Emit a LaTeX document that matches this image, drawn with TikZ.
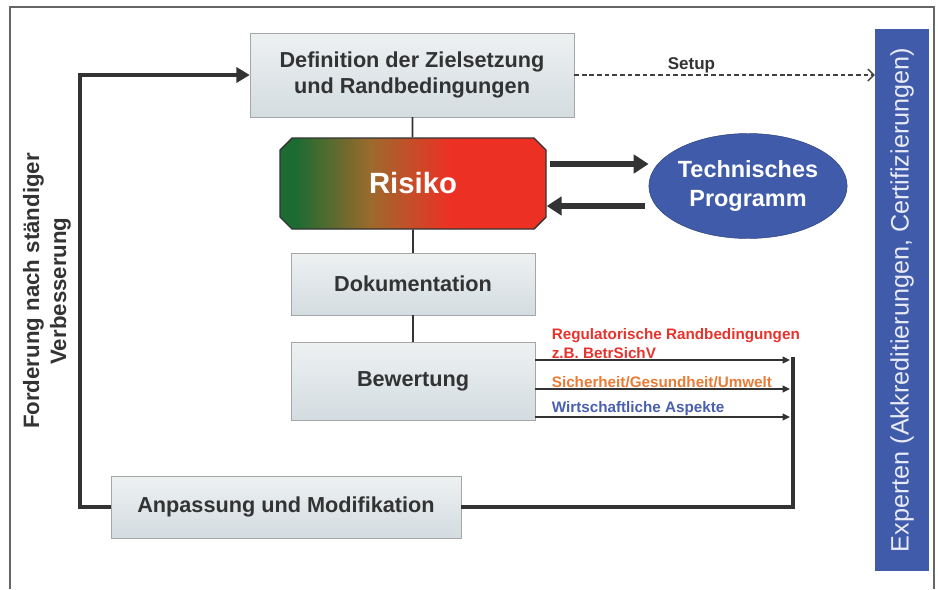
\documentclass[tikz,border=0pt]{standalone}
\usepackage{fontspec}
\setmainfont{Liberation Sans}
\usetikzlibrary{arrows.meta,positioning,shapes.misc,shapes.geometric,calc}
\definecolor{boxtop}{HTML}{EEF1F2}
\definecolor{boxbot}{HTML}{D3DCE0}
\definecolor{rkgreen}{HTML}{1C6B32}
\definecolor{rkbrown}{HTML}{9C6A2C}
\definecolor{rkred}{HTML}{EC3124}
\definecolor{tpblue}{HTML}{3F5BA9}
\definecolor{regred}{HTML}{E8322C}
\definecolor{sgorange}{HTML}{E97B35}
\definecolor{wablue}{HTML}{4A5FAE}
\pgfdeclarehorizontalshading{risikoshade}{100bp}{color(0bp)=(rkgreen); color(28bp)=(rkgreen); color(42bp)=(rkbrown); color(57bp)=(rkred); color(100bp)=(rkred)}
\tikzset{
	thick,
	>=latex,
	stepbox/.style = {
			draw = gray!70, thin,
			top color = boxtop, bottom color = boxbot,
			font = \bfseries\fontsize{18.5}{22}\selectfont,
			text = black!80, align = center, inner sep = 0pt,
		},
	link/.style     = {draw = black!80, line width = 1.5pt},
	loopline/.style = {draw = black!80, line width = 3.5pt},
	fat/.style      = {draw = black!80, line width = 5pt, -{Triangle[length=4.5mm,width=5.5mm]}, shorten <= 1mm},
	feed/.style     = {draw = black!80, line width = 1.4pt, -{Triangle[length=2.2mm,width=2mm]}},
	note/.style     = {font = \bfseries\fontsize{13}{16}\selectfont, anchor = south west, align = left, inner sep = 1pt},
}
\begin{document}
\begin{tikzpicture}[x=0.3mm, y=-0.3mm]
	\useasboundingbox (0,0) rectangle (938,589);
	\draw[gray!80!black, line width=1pt] (10,589) |- (934,7) -- (934,589);

	% boxes of the cycle
	\node[stepbox, minimum width=97.2mm, minimum height=25.2mm] (defi) at (412,75) {Definition der Zielsetzung\\und Randbedingungen};
	\node[chamfered rectangle, chamfered rectangle xsep=1.8mm, chamfered rectangle ysep=1.8mm, draw=black!80, line width=1.2pt,
		shading=risikoshade, minimum width=79.8mm, minimum height=27.3mm, inner sep=0pt,
		text=white, font=\bfseries\fontsize{25}{30}\selectfont] (risk) at (413,183.5) {Risiko};
	\node[stepbox, minimum width=73.2mm, minimum height=18.6mm] (doku) at (413,284) {Dokumentation};
	\node[stepbox, minimum width=73.2mm, minimum height=23.4mm] (bew) at (413,381) {Bewertung};
	\node[stepbox, minimum width=105mm, minimum height=18.6mm] (anp) at (286,507) {Anpassung und Modifikation};

	\node[ellipse, fill=tpblue, draw=tpblue!70!black, minimum width=59.4mm, minimum height=31.5mm, inner sep=0pt,
		text=white, align=center, font=\bfseries\fontsize{20}{25}\selectfont] (tp) at (748,186) {Technisches\\Programm};

	\node[rotate=90, fill=tpblue, minimum width=162.6mm, minimum height=16.2mm, inner sep=0pt,
		text=white!88!tpblue, font=\fontsize{21.5}{24}\selectfont] (exp) at (902,300) {Experten (Akkreditierungen, Certifizierungen)};

	\node[rotate=90, align=center, text=black!80, font=\bfseries\fontsize{19}{23}\selectfont] (ford) at (47,291) {Forderung nach ständiger\\Verbesserung};

	% connectors
	\draw[link] (defi) -- (risk);
	\draw[link] (risk) -- (doku);
	\draw[link] (doku) -- (bew);

	\draw[fat] ([yshift=5.85mm]risk.east) -- ([yshift=5.85mm]risk.east -| tp.west);
	\draw[fat] ([yshift=-6.75mm]risk.east -| tp.west) -- ([yshift=-6.75mm]risk.east);

	\draw[black!75, line width=1.1pt, dash pattern=on 4pt off 2.5pt, -{Straight Barb[length=1.8mm]}] (defi.east) -- (defi.east -| exp.north)
		node[pos=0.39, above=-2pt, font=\bfseries\fontsize{14.5}{16}\selectfont, text=black!80] (setup) {Setup};

	\draw[loopline, -{Triangle[length=4mm,width=4.5mm]}] (anp.west) -- ++(-31,0) |- (defi.west);

	\coordinate (jn) at (793,357);
	\draw[loopline] (anp.east) -| (jn);
	\foreach \yy/\nm in {360/r1, 389/r2, 417/r3}
		\coordinate (\nm) at (790,\yy);
	\draw[feed] (bew.east |- r1) -- (r1);
	\draw[feed] (bew.east |- r2) -- (r2);
	\draw[feed] (bew.east |- r3) -- (r3);

	\node[note, text=regred] (reg) at ([xshift=13]bew.east |- r1) {Regulatorische Randbedingungen\\z.B. BetrSichV};
	\node[note, text=sgorange] (sgu) at ([xshift=13]bew.east |- r2) {Sicherheit/Gesundheit/Umwelt};
	\node[note, text=wablue] (wia) at ([xshift=13]bew.east |- r3) {Wirtschaftliche Aspekte};
\end{tikzpicture}
\end{document}
